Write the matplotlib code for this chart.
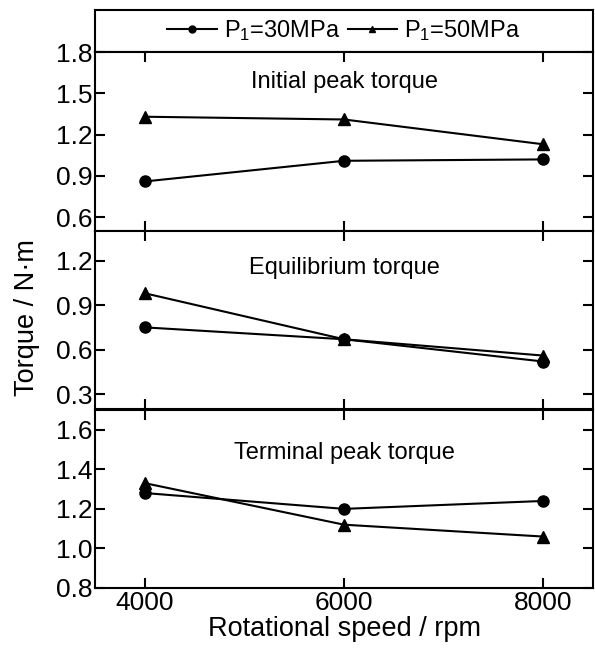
import matplotlib
matplotlib.use('Agg')
import matplotlib.pyplot as plt
from matplotlib.lines import Line2D

plt.rcParams['font.family'] = ['Liberation Sans', 'DejaVu Sans']
plt.rcParams['mathtext.fontset'] = 'custom'
plt.rcParams['mathtext.rm'] = 'Liberation Sans'
plt.rcParams['mathtext.it'] = 'Liberation Sans'

speed = [4000, 6000, 8000]
labels = ['P$_1$=30MPa', 'P$_1$=50MPa']

initial_30 = [0.86, 1.01, 1.02]
initial_50 = [1.33, 1.31, 1.13]
equil_30 = [0.75, 0.67, 0.52]
equil_50 = [0.98, 0.67, 0.56]
terminal_30 = [1.28, 1.20, 1.24]
terminal_50 = [1.33, 1.12, 1.06]

titles = ['Initial peak torque', 'Equilibrium torque', 'Terminal peak torque']
ylims = [(0.5, 1.8), (0.2, 1.4), (0.8, 1.7)]
yticks = [[0.6, 0.9, 1.2, 1.5, 1.8], [0.3, 0.6, 0.9, 1.2], [0.8, 1.0, 1.2, 1.4, 1.6]]
title_y = [0.83, 0.79, 0.76]
series = [(initial_30, initial_50), (equil_30, equil_50), (terminal_30, terminal_50)]

fig = plt.figure(figsize=(5.95, 6.55), dpi=100)
left, width = 0.1597, 0.837
boxes = [(0.6473, 0.2733), (0.3756, 0.2718), (0.1023, 0.2718)]

# legend strip on top
lax = fig.add_axes([left, 0.9206, width, 0.0641])
lax.set_xticks([])
lax.set_yticks([])
for s in lax.spines.values():
    s.set_linewidth(1.5)
handles = [Line2D([], [], color='k', lw=1.5, marker='o', ms=5),
           Line2D([], [], color='k', lw=1.5, marker='^', ms=5)]
lax.legend(handles, labels, loc='center', ncol=2, frameon=False, fontsize=17,
           handlelength=2.1, handletextpad=0.3, columnspacing=0.3,
           borderaxespad=0, borderpad=0)

axes = []
for i, (b, h) in enumerate(boxes):
    ax = fig.add_axes([left, b, width, h])
    y30, y50 = series[i]
    ax.plot(speed, y30, color='k', lw=1.5, marker='o', ms=8)
    ax.plot(speed, y50, color='k', lw=1.5, marker='^', ms=8)
    ax.set_xlim(3500, 8500)
    ax.set_ylim(*ylims[i])
    ax.set_yticks(yticks[i])
    ax.set_yticklabels(['%.1f' % v for v in yticks[i]])
    ax.set_xticks(speed)
    ax.tick_params(direction='in', top=True, right=True, length=7, width=1.5,
                   labelsize=19, pad=2)
    if i < 2:
        ax.tick_params(labelbottom=False)
    for s in ax.spines.values():
        s.set_linewidth(1.5)
    ax.text(6000, ylims[i][0] + title_y[i] * (ylims[i][1] - ylims[i][0]), titles[i],
            ha='center', va='center', fontsize=17)
    axes.append(ax)

axes[2].set_xlabel('Rotational speed / rpm', fontsize=19.5, labelpad=1)
fig.text(0.045, 0.515, 'Torque / N·m', rotation=90, ha='center', va='center', fontsize=19.5)

fig.savefig('out.png', dpi=100)
